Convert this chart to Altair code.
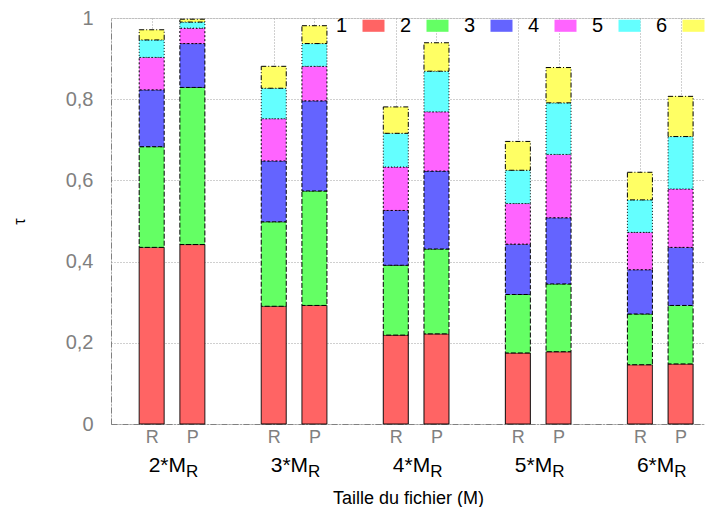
import altair as alt
import pandas as pd

groups = ["2", "3", "4", "5", "6"]
methods = ["R", "P"]
series = ["1", "2", "3", "4", "5", "6"]
colors = ["#ff6464", "#64ff64", "#6464ff", "#ff64ff", "#64ffff", "#ffff64"]
dashes = [[1, 0], [5, 2], [4, 2], [2, 2], [1, 2], [5, 2, 1, 2]]

# segment heights per group (rows) and series 1..6 (columns)
values_R = [
    [0.435, 0.248, 0.140, 0.080, 0.043, 0.025],
    [0.290, 0.208, 0.150, 0.104, 0.075, 0.054],
    [0.219, 0.172, 0.135, 0.107, 0.083, 0.065],
    [0.175, 0.144, 0.124, 0.100, 0.082, 0.071],
    [0.146, 0.125, 0.109, 0.092, 0.080, 0.068],
]
values_P = [
    [0.442, 0.387, 0.108, 0.038, 0.015, 0.007],
    [0.292, 0.282, 0.222, 0.085, 0.056, 0.044],
    [0.222, 0.209, 0.192, 0.146, 0.100, 0.070],
    [0.178, 0.167, 0.163, 0.156, 0.127, 0.087],
    [0.148, 0.144, 0.143, 0.144, 0.129, 0.099],
]
y_ticks = [0, 0.2, 0.4, 0.6, 0.8, 1]

rows = []
for gi, g in enumerate(groups):
    for mi, (m, vals) in enumerate(zip(methods, [values_R, values_P])):
        for si, s in enumerate(series):
            rows.append({"group": g, "method": m, "pos": 3 * gi + mi,
                         "series": s, "order": si, "value": vals[gi][si]})
df = pd.DataFrame(rows)
bar_positions = sorted(df["pos"].unique().tolist())

glabels = pd.DataFrame({"pos": [3 * gi + 0.5 for gi in range(len(groups))],
                        "text": [g + "*M" for g in groups],
                        "sub": ["R"] * len(groups)})

W, H = 594, 406
FONT = "Liberation Sans"
GREY = "#808080"

xscale = alt.Scale(domain=[-1, 13.6], nice=False, zero=False, padding=0)

legend = alt.Legend(
    title=None, orient="none", direction="horizontal", columns=6,
    legendX=251, legendY=-4,
    symbolType="M-1,-0.55H1V0.55H-1Z", symbolSize=484,
    symbolStrokeColor="black", symbolStrokeWidth=1, symbolOpacity=1,
    labelFontSize=20, labelFont=FONT, labelColor="black",
    labelAlign="right", labelOffset={"expr": "-38"}, columnPadding=12,
)

bars = alt.Chart(df).transform_stack(
    stack="value", groupby=["pos"], as_=["v0", "v1"],
    sort=[alt.SortField("order", order="ascending")]
).mark_bar(size=25, stroke="black", strokeWidth=1, opacity=1).encode(
    x=alt.X("pos:Q", scale=xscale, axis=alt.Axis(
        values=bar_positions,
        labelExpr="datum.value % 3 == 0 ? 'R' : 'P'",
        labelFontSize=18, labelFont=FONT, labelColor=GREY, labelPadding=4,
        ticks=False, domainColor=GREY, domainDash=[6, 2, 1, 2],
        grid=True, gridColor="#a0a0a0", gridDash=[1, 2],
        title="Taille du fichier (M)", titleFontSize=18, titleFont=FONT,
        titleFontWeight="normal", titleColor="black", titlePadding=43,
    )),
    y=alt.Y("v0:Q", scale=alt.Scale(domain=[0, 1], nice=False), axis=alt.Axis(
        values=y_ticks,
        labelExpr="replace(format(datum.value, '~g'), '.', ',')",
        labelFontSize=20, labelFont=FONT, labelColor=GREY, labelPadding=18,
        ticks=False, domainColor=GREY, domainDash=[6, 2, 1, 2],
        grid=True, gridColor="#a0a0a0", gridDash=[1, 2],
        title="τ", titleFontSize=16, titleFont=FONT, titleFontWeight="normal",
        titleColor="black", titlePadding=38,
    )),
    y2="v1:Q",
    color=alt.Color("series:N", scale=alt.Scale(domain=series, range=colors), legend=legend),
    strokeDash=alt.StrokeDash("series:N", scale=alt.Scale(domain=series, range=dashes), legend=legend),
)

gtext = alt.Chart(glabels).mark_text(
    align="right", baseline="alphabetic", dx=14, fontSize=21, font=FONT, color="black"
).encode(x=alt.X("pos:Q", scale=xscale), y=alt.value(H + 48), text="text:N")

gsub = alt.Chart(glabels).mark_text(
    align="left", baseline="alphabetic", dx=14, fontSize=17, font=FONT, color="black"
).encode(x=alt.X("pos:Q", scale=xscale), y=alt.value(H + 53), text="sub:N")

chart = alt.layer(bars, gtext, gsub).properties(
    width=W, height=H,
    padding={"left": 103, "top": 10, "right": 0, "bottom": 83},
    autosize=alt.AutoSizeParams(type="none"),
).configure_view(stroke=None).configure(font=FONT)

chart.save("out.html", embed_options={"renderer": "svg", "actions": False})
